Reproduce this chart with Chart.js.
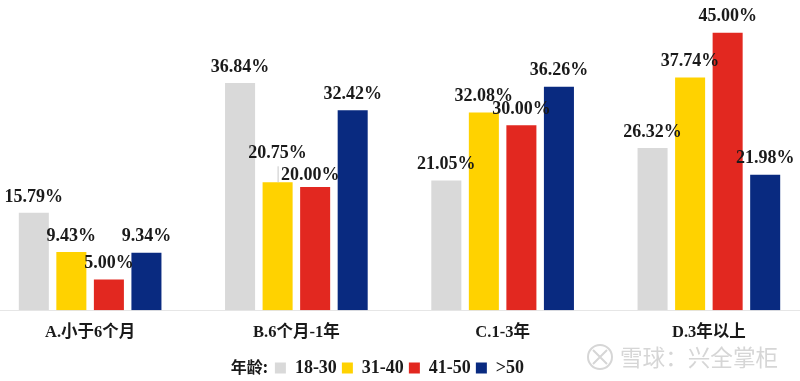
<!DOCTYPE html>
<html>
<head>
<meta charset="utf-8">
<script src="https://cdn.jsdelivr.net/npm/chart.js@4"></script>
<style>
  html, body { margin: 0; background: #fff; overflow: hidden; }
  #wrap { position: absolute; left: -13px; top: 0; width: 825px; height: 381px; }
</style>
</head>
<body>
<div id="wrap"><canvas id="ageChart"></canvas></div>
<script>
const categories = ["A.小于6个月", "B.6个月-1年", "C.1-3年", "D.3年以上"];
const ageGroups = ["18-30", "31-40", "41-50", ">50"];
const age18to30 = [15.79, 36.84, 21.05, 26.32];
const age31to40 = [9.43, 20.75, 32.08, 37.74];
const age41to50 = [5.00, 20.00, 30.00, 45.00];
const age50plus = [9.34, 32.42, 36.26, 21.98];
const colors = ["#d9d9d9", "#ffd200", "#e22820", "#092a80"];

const serif = '"Liberation Serif", "Noto Sans CJK SC", serif';
const watermark = "雪球：兴全掌柜";
const legendTitle = "年龄:";

// labels the original nudged away from the default spot, "dataset-index": [dx, dy]
const labelNudge = { "1-1": [0, -13], "2-1": [-5, 4] };

const valueLabels = {
  id: "valueLabels",
  afterDatasetsDraw(chart) {
    const c = chart.ctx;
    c.save();
    c.font = "bold 18px " + serif;
    c.fillStyle = "#1a1a1a";
    c.textAlign = "center";
    c.textBaseline = "middle";
    chart.data.datasets.forEach((ds, d) => {
      chart.getDatasetMeta(d).data.forEach((bar, i) => {
        const n = labelNudge[d + "-" + i] || [0, 0];
        c.fillText(ds.data[i].toFixed(2) + "%", bar.x + n[0], bar.y - 16 + n[1]);
      });
    });
    // leader line on 20.75%
    const b = chart.getDatasetMeta(1).data[1];
    c.strokeStyle = "#c8c8c8";
    c.lineWidth = 1;
    c.beginPath();
    c.moveTo(b.x + 0.5, b.y - 16);
    c.lineTo(b.x + 0.5, b.y);
    c.stroke();
    c.restore();
  }
};

const extras = {
  id: "extras",
  afterDraw(chart) {
    const c = chart.ctx;
    const first = chart.legend.legendHitBoxes[0];
    c.save();
    c.font = 'bold 16px "Noto Sans CJK SC", serif';
    c.fillStyle = "#1a1a1a";
    c.textAlign = "right";
    c.textBaseline = "middle";
    c.fillText(legendTitle, first.left - 7, first.top + 8);

    // xueqiu watermark
    c.font = '22.6px "Noto Sans CJK SC", sans-serif';
    c.fillStyle = "#d6d6d6";
    c.textAlign = "left";
    c.fillText(watermark, 13 + 620, 357);
    c.strokeStyle = "#d6d6d6";
    c.lineWidth = 2;
    c.beginPath();
    c.arc(13 + 600, 357, 12, 0, Math.PI * 2);
    c.moveTo(13 + 593, 350);
    c.lineTo(13 + 607, 364);
    c.moveTo(13 + 607, 350);
    c.lineTo(13 + 593, 364);
    c.stroke();
    c.restore();
  }
};

new Chart(document.getElementById("ageChart"), {
  type: "bar",
  data: {
    labels: categories,
    datasets: [age18to30, age31to40, age41to50, age50plus].map((values, i) => ({
      label: ageGroups[i],
      data: values,
      backgroundColor: colors[i],
      barPercentage: 0.8,
      categoryPercentage: 0.728
    }))
  },
  options: {
    responsive: true,
    maintainAspectRatio: false,
    animation: false,
    layout: { padding: { top: 2, bottom: -6, left: 0, right: 0 } },
    plugins: {
      tooltip: { enabled: false },
      legend: {
        position: "bottom",
        labels: {
          boxWidth: 11,
          boxHeight: 11,
          padding: 5,
          color: "#1a1a1a",
          font: { family: serif, size: 18, weight: "bold" }
        }
      }
    },
    scales: {
      x: {
        afterFit(axis) { axis.height += 6; },
        grid: { display: false },
        border: { color: "#e6e6e6", width: 1 },
        ticks: {
          color: "#1a1a1a",
          padding: 5,
          maxRotation: 0,
          font: { family: serif, size: 16.5, weight: "bold" }
        }
      },
      y: { display: false, min: 0, max: 50 }
    }
  },
  plugins: [valueLabels, extras]
});
</script>
</body>
</html>
